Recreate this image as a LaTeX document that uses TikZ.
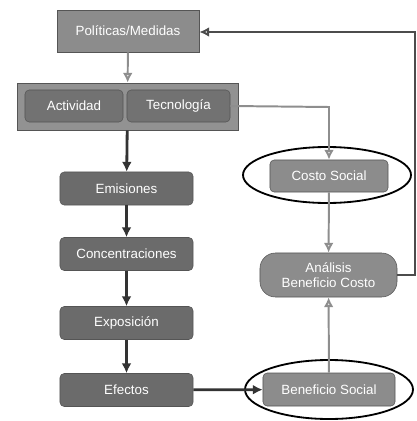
\documentclass[tikz,border=0pt]{standalone}
\usepackage{fontspec}
\setmainfont{Liberation Sans}
\usetikzlibrary{arrows.meta}
\definecolor{boxlight}{HTML}{8C8C8C}
\definecolor{boxdark}{HTML}{6B6B6B}
\definecolor{edgegray}{HTML}{555555}
\definecolor{arrowlight}{HTML}{8E8E8E}
\tikzset{
  lightbox/.style={draw=edgegray, fill=boxlight, text=white, inner sep=0pt,
    font=\fontsize{9.5}{11}\selectfont},
  darkbox/.style={draw=edgegray, fill=boxdark, text=white, rounded corners=3pt,
    inner sep=0pt, minimum width=3.325cm, minimum height=0.825cm,
    font=\fontsize{9.5}{11}\selectfont},
  lightarrow/.style={draw=arrowlight, line width=1.4pt,
    -{Latex[length=7pt,width=7pt,open,fill=white!80!gray]}},
  darkarrow/.style={draw=black!80, line width=2pt, -{Latex[length=7pt,width=7pt]}},
  ring/.style={draw=black, line width=1.3pt},
}
\begin{document}
\begin{tikzpicture}[x=0.025cm,y=-0.025cm]
  \useasboundingbox (0,0) rectangle (416,421);
  % Define node positions
  \node[lightbox, minimum width=3.55cm, minimum height=1.05cm] (pol) at (128,31) {Políticas/Medidas};
  \node[lightbox, fill=boxlight!95!white, minimum width=5.525cm, minimum height=1.175cm] (sector) at (127.5,106.5) {};
  \node[darkbox, fill=boxdark!95!white, minimum width=2.45cm, minimum height=0.8cm] (act) at (74,106) {Actividad};
  \node[darkbox, fill=boxdark!95!white, minimum width=2.575cm, minimum height=0.8cm] (tec) at (178.5,106) {Tecnología};
  \node[darkbox] (emi) at (126.5,188.5) {Emisiones};
  \node[darkbox] (conc) at (126.5,254) {Concentraciones};
  \node[darkbox] (expo) at (126.5,323) {Exposición};
  \node[darkbox] (efe) at (126.5,390) {Efectos};
  \node[lightbox, rounded corners=3pt, minimum width=2.95cm, minimum height=0.8cm] (costo) at (329,176) {Costo Social};
  \node[lightbox, rounded corners=11pt, align=center, minimum width=3.425cm, minimum height=1.1cm] (acb) at (328.5,275) {Análisis\\Beneficio Costo};
  \node[lightbox, rounded corners=3pt, minimum width=3.3cm, minimum height=0.825cm] (benef) at (329,389.5) {Beneficio Social};
  \coordinate (turn) at (329,107);
  \coordinate (loopa) at (415,275);
  \coordinate (loopb) at (415,32);

  % Rings
  \draw[ring] (327,175) ellipse [x radius=84, y radius=28];
  \draw[ring] (329,389.5) ellipse [x radius=84, y radius=29.5];

  % Draw arrows
  \draw[lightarrow] (pol) -- (sector);
  \draw[darkarrow] (sector) -- (emi);
  \draw[darkarrow] (emi) -- (conc);
  \draw[darkarrow] (conc) -- (expo);
  \draw[darkarrow] (expo) -- (efe);
  \draw[darkarrow] (efe) -- (benef);
  \draw[lightarrow] (tec.east) -- (turn) -- (costo.north);
  \draw[lightarrow] (costo) -- (acb);
  \draw[lightarrow] (benef) -- (acb);
  \draw[lightarrow, draw=black!70] (acb.east) -- (loopa) -- (loopb) -- (pol.east |- loopb);
\end{tikzpicture}
\end{document}
